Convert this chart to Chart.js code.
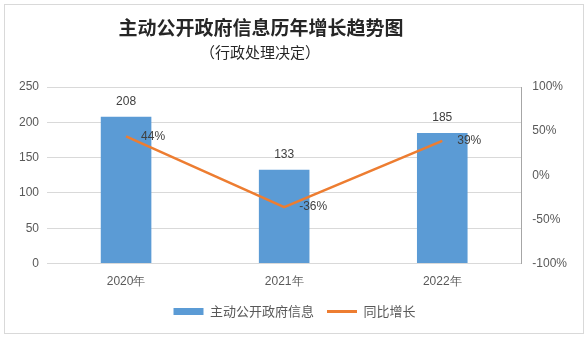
<!DOCTYPE html>
<html>
<head>
<meta charset="utf-8">
<script src="https://cdn.jsdelivr.net/npm/chart.js@4/dist/chart.umd.min.js"></script>
<style>
  html, body { margin: 0; padding: 0; background: #fff; }
  #wrap { width: 588px; height: 341px; position: relative; }
</style>
</head>
<body>
<div id="wrap"><canvas id="growthChart"></canvas></div>
<script>
    // 数据
    const years = ['2020年', '2021年', '2022年'];
    const disclosed = [208, 133, 185];
    const yoyGrowth = [0.44, -0.36, 0.39];
    const yoyLabels = ['44%', '-36%', '39%'];
    const titleText = '主动公开政府信息历年增长趋势图';
    const subtitleText = '（行政处理决定）';

    document.addEventListener('DOMContentLoaded', () => {
        // 外框 + 标题（标题中心略偏左，和原图一致）
        const frame = {
            id: 'frame',
            beforeDraw(chart) {
                const ctx = chart.ctx;
                ctx.save();
                ctx.fillStyle = '#fff';
                ctx.fillRect(0, 0, chart.width, chart.height);
                ctx.strokeStyle = '#d9d9d9';
                ctx.lineWidth = 1;
                ctx.strokeRect(4.5, 4.5, 579, 329);
                ctx.fillStyle = '#262626';
                ctx.textAlign = 'center';
                ctx.textBaseline = 'middle';
                ctx.font = 'bold 19px "Noto Sans CJK SC", sans-serif';
                ctx.fillText(titleText, 261, 28);
                ctx.font = '15px "Noto Sans CJK SC", sans-serif';
                ctx.fillText(subtitleText, 260, 52);
                ctx.restore();
            }
        };

        // 数据标签
        const valueLabels = {
            id: 'valueLabels',
            afterDatasetsDraw(chart) {
                const ctx = chart.ctx;
                ctx.save();
                ctx.font = '12px "Liberation Sans", "DejaVu Sans", sans-serif';
                ctx.fillStyle = '#404040';
                chart.getDatasetMeta(0).data.forEach((bar, i) => {
                    ctx.textAlign = 'center';
                    ctx.textBaseline = 'bottom';
                    ctx.fillText(String(disclosed[i]), bar.x, bar.y - 9);
                });
                chart.getDatasetMeta(1).data.forEach((pt, i) => {
                    ctx.textAlign = 'left';
                    ctx.textBaseline = 'middle';
                    ctx.fillText(yoyLabels[i], pt.x + 15, pt.y);
                });
                ctx.restore();
            }
        };

        const ctx = document.getElementById('growthChart').getContext('2d');
        new Chart(ctx, {
            data: {
                labels: years,
                datasets: [{
                    type: 'bar',
                    label: '主动公开政府信息',
                    data: disclosed,
                    backgroundColor: '#5b9bd5',
                    borderWidth: 0,
                    categoryPercentage: 1,
                    barPercentage: 0.32,
                    yAxisID: 'y',
                    order: 2
                }, {
                    type: 'line',
                    label: '同比增长',
                    data: yoyGrowth,
                    borderColor: '#ed7d31',
                    backgroundColor: '#ed7d31',
                    borderWidth: 2.5,
                    pointRadius: 0,
                    tension: 0,
                    yAxisID: 'y1',
                    order: 1
                }]
            },
            options: {
                responsive: true,
                maintainAspectRatio: false,
                animation: false,
                layout: {
                    padding: { top: 87, right: 10, bottom: 13, left: 11 }
                },
                plugins: {
                    legend: {
                        display: true,
                        position: 'bottom',
                        labels: {
                            color: '#595959',
                            font: { family: '"Noto Sans CJK SC", sans-serif', size: 13 },
                            usePointStyle: true,
                            pointStyleWidth: 30,
                            boxHeight: 7,
                            padding: 13,
                            generateLabels(chart) {
                                const items = Chart.defaults.plugins.legend.labels.generateLabels(chart);
                                items.sort((a, b) => a.datasetIndex - b.datasetIndex);
                                items.forEach(item => {
                                    if (item.datasetIndex === 1) {
                                        item.pointStyle = 'line';
                                        item.lineWidth = 3;
                                        item.strokeStyle = '#ed7d31';
                                    } else {
                                        item.pointStyle = 'rect';
                                        item.lineWidth = 0;
                                    }
                                });
                                return items;
                            }
                        }
                    },
                    tooltip: { enabled: false }
                },
                scales: {
                    x: {
                        grid: { display: false },
                        border: { display: false },
                        ticks: {
                            color: '#595959',
                            font: { family: '"Liberation Sans", sans-serif', size: 12 },
                            padding: 3
                        }
                    },
                    y: {
                        position: 'left',
                        min: 0,
                        max: 250,
                        ticks: {
                            stepSize: 50,
                            color: '#595959',
                            font: { family: '"Liberation Sans", sans-serif', size: 12 },
                            padding: 8
                        },
                        grid: { color: '#d9d9d9', drawTicks: false },
                        border: { display: false }
                    },
                    y1: {
                        position: 'right',
                        min: -1,
                        max: 1,
                        ticks: {
                            stepSize: 0.5,
                            color: '#595959',
                            font: { family: '"Liberation Sans", sans-serif', size: 12 },
                            padding: 11,
                            callback: v => Math.round(v * 100) + '%'
                        },
                        grid: { drawOnChartArea: false, drawTicks: false },
                        border: { display: true, color: '#a6a6a6' }
                    }
                }
            },
            plugins: [frame, valueLabels]
        });
    });
</script>
</body>
</html>
